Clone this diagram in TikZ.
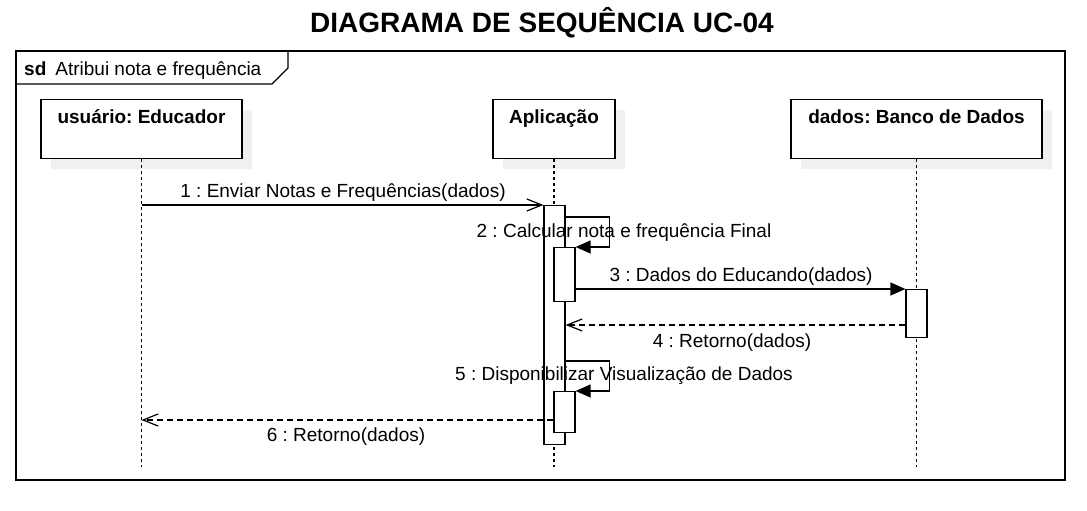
\documentclass[tikz,border=0pt]{standalone}
\usepackage{fontspec}
\setmainfont{Liberation Sans}
\usetikzlibrary{arrows.meta,shadows}
\frenchspacing

\begin{document}
\begin{tikzpicture}[x=1pt,y=-1pt,font=\fontsize{19}{23}\selectfont,
  lifebox/.style={draw,line width=1.2pt,fill=white,anchor=north,inner ysep=10pt,
    text height=14pt,text depth=25pt,font=\fontsize{19}{23}\selectfont\bfseries,
    drop shadow={shadow xshift=10pt,shadow yshift=-10pt,fill=black!6,opacity=1}},
  activation/.style={draw,line width=1.2pt,fill=white,anchor=north,inner sep=0pt,minimum width=21pt},
  lifeline/.style={line width=1.2pt,dash pattern=on 3pt off 3pt},
  msg/.style={line width=1.2pt},
  call/.style={msg,-{Triangle[length=15pt,width=13pt]}},
  async/.style={msg,-{Straight Barb[length=15pt,width=12pt]}},
  reply/.style={async,dash pattern=on 6pt off 4pt},
  msglabel/.style={anchor=base,inner sep=0pt}]
  \useasboundingbox (0,0) rectangle (1087,511);
  \node[anchor=base,font=\fontsize{28}{34}\selectfont\bfseries] (title) at (542,33) {DIAGRAMA DE SEQUÊNCIA UC-04};
  % frame
  \draw[line width=1.4pt] (16,51) rectangle (1065,480);
  \draw[line width=1.2pt] (16,84) -- (272,84) -- (288,68) -- (288,51);
  \node[anchor=base west,inner sep=0pt] (frametitle) at (24,75) {\textbf{sd}\hspace{9pt}Atribui nota e frequência};
  % lifelines
  \node[lifebox,minimum width=201pt] (educador) at (141.5,99) {usuário: Educador};
  \node[lifebox,minimum width=122pt] (aplicacao) at (554,99) {Aplicação};
  \node[lifebox,minimum width=251pt] (banco) at (916.5,99) {dados: Banco de Dados};
  \foreach \who in {educador,aplicacao,banco}
    \draw[lifeline] (\who.south) -- (\who.south |- 0,467);
  % activations
  \node[activation,minimum height=239pt] (barApp) at (554.5,205) {};
  \node[activation,minimum height=54pt] (barCalc) at (564.5,247) {};
  \node[activation,minimum height=48pt] (barDb) at (916.5,289) {};
  \node[activation,minimum height=41pt] (barShow) at (564.5,391) {};
  % messages
  \coordinate (m1start) at (educador.south |- 0,205);
  \draw[async] (m1start) -- (barApp.north west);
  \node[msglabel] (lbl1) at (343,197) {1 : Enviar Notas e Frequências(dados)};
  \coordinate (s2start) at (barApp.east |- 0,217);
  \draw[call] (s2start) -- ++(44,0) |- (barCalc.north east);
  \node[msglabel] (lbl2) at (624,237) {2 : Calcular nota e frequência Final};
  \coordinate (m3start) at (barCalc.east |- 0,289);
  \draw[call] (m3start) -- (barDb.north west);
  \node[msglabel] (lbl3) at (741,281) {3 : Dados do Educando(dados)};
  \coordinate (m4start) at (barDb.west |- 0,325);
  \coordinate (m4end) at (barApp.east |- 0,325);
  \draw[reply] (m4start) -- (m4end);
  \node[msglabel] (lbl4) at (732,347) {4 : Retorno(dados)};
  \coordinate (s5start) at (barApp.east |- 0,361);
  \draw[call] (s5start) -- ++(44,0) |- (barShow.north east);
  \node[msglabel] (lbl5) at (624,380) {5 : Disponibilizar Visualização de Dados};
  \coordinate (m6start) at (barShow.west |- 0,420);
  \coordinate (m6end) at (educador.south |- 0,420);
  \draw[reply] (m6start) -- (m6end);
  \node[msglabel] (lbl6) at (346,441) {6 : Retorno(dados)};
\end{tikzpicture}
\end{document}
